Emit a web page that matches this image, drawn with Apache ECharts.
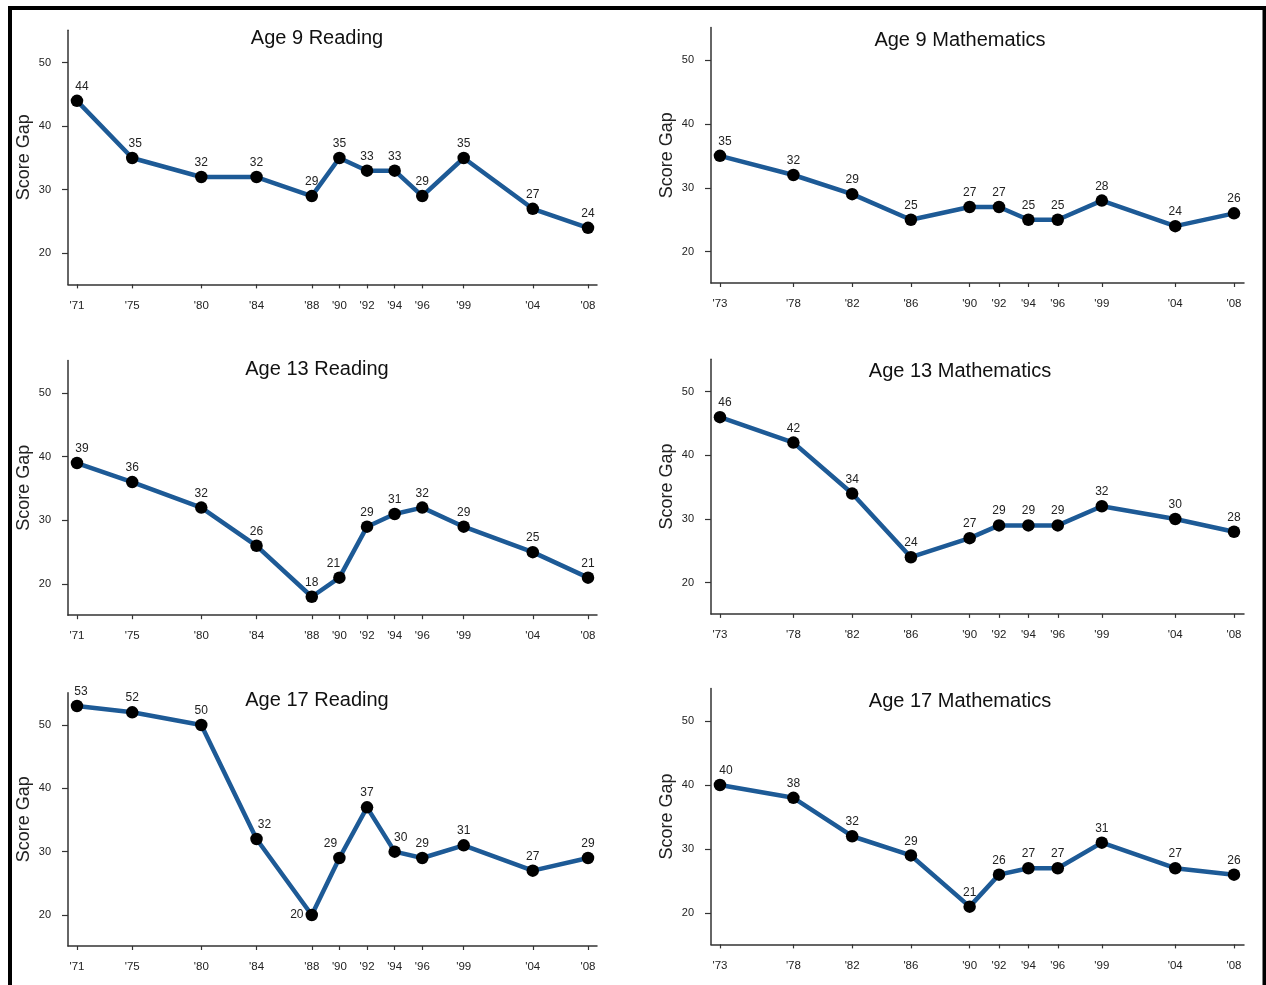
<!DOCTYPE html>
<html>
<head>
<meta charset="utf-8">
<script src="https://cdn.jsdelivr.net/npm/echarts@6/dist/echarts.min.js"></script>
<style>
html,body{margin:0;padding:0;background:#fff;}
#chart{width:1266px;height:985px;}
</style>
</head>
<body>
<div id="chart"></div>
<script>
// ---- data ----
const readingYears = [1971, 1975, 1980, 1984, 1988, 1990, 1992, 1994, 1996, 1999, 2004, 2008];
const mathYears = [1973, 1978, 1982, 1986, 1990, 1992, 1994, 1996, 1999, 2004, 2008];
const age9Reading = [44, 35, 32, 32, 29, 35, 33, 33, 29, 35, 27, 24];
const age9Math = [35, 32, 29, 25, 27, 27, 25, 25, 28, 24, 26];
const age13Reading = [39, 36, 32, 26, 18, 21, 29, 31, 32, 29, 25, 21];
const age13Math = [46, 42, 34, 24, 27, 29, 29, 29, 32, 30, 28];
const age17Reading = [53, 52, 50, 32, 20, 29, 37, 30, 29, 31, 27, 29];
const age17Math = [40, 38, 32, 29, 21, 26, 27, 27, 31, 27, 26];
const yTicks = [20, 30, 40, 50];
const titles = ['Age 9 Reading', 'Age 9 Mathematics', 'Age 13 Reading', 'Age 13 Mathematics', 'Age 17 Reading', 'Age 17 Mathematics'];
const yAxisName = 'Score Gap';

// ---- layout (styling only) ----
const panels = [
  {years: readingYears, vals: age9Reading, left: 68, top: 30.3, width: 529, height: 254.1, xmin: 1970.35, xmax: 2008.65, tx: 317, ty: 38},
  {years: mathYears, vals: age9Math, left: 711, top: 27.4, width: 533, height: 255.6, xmin: 1972.39, xmax: 2008.68, tx: 960, ty: 40},
  {years: readingYears, vals: age13Reading, left: 68, top: 360.5, width: 529, height: 254.7, xmin: 1970.35, xmax: 2008.65, tx: 317, ty: 369},
  {years: mathYears, vals: age13Math, left: 711, top: 359.2, width: 533, height: 254.7, xmin: 1972.39, xmax: 2008.68, tx: 960, ty: 371},
  {years: readingYears, vals: age17Reading, left: 68, top: 692.7, width: 529, height: 253.3, xmin: 1970.35, xmax: 2008.65, tx: 317, ty: 700},
  {years: mathYears, vals: age17Math, left: 711, top: 688.4, width: 533, height: 256, xmin: 1972.39, xmax: 2008.68, tx: 960, ty: 701}
];
// label placement tweaks: panelIndex -> {year: {...}}
const labelTweaks = {
  0: {1971: {offset: [5, 0]}, 1975: {offset: [3, 0]}},
  1: {1973: {offset: [5, 0]}},
  2: {1971: {offset: [5, 0]}, 1990: {offset: [-6, 0]}},
  3: {1973: {offset: [5, 0]}},
  4: {1971: {offset: [4, 0]}, 1984: {offset: [8, 0]}, 1988: {position: 'left', distance: 2}, 1990: {offset: [-9, 0]}, 1994: {offset: [6, 0]}},
  5: {1973: {offset: [6, 0]}}
};

const axisColor = '#333';
const textColor = '#222';
const lineColor = '#1d5a96';
const FONT = '"Liberation Sans", Arial, Helvetica, sans-serif';

const grid = [], xAxis = [], yAxis = [], series = [], title = [];
panels.forEach((p, i) => {
  grid.push({left: p.left, top: p.top, width: p.width, height: p.height, containLabel: false});
  xAxis.push({
    type: 'value', gridIndex: i, min: p.xmin, max: p.xmax,
    axisLine: {show: true, lineStyle: {color: axisColor, width: 1.5}},
    axisTick: {show: true, customValues: p.years, length: 4, lineStyle: {color: axisColor, width: 1.2}},
    axisLabel: {customValues: p.years, margin: 15, fontSize: 11.5, color: textColor, fontFamily: FONT,
      formatter: v => "'" + String(Math.round(v)).slice(2)},
    splitLine: {show: false}
  });
  yAxis.push({
    type: 'value', gridIndex: i, min: 15.1, max: 55.1,
    name: yAxisName, nameLocation: 'middle', nameGap: 35,
    nameTextStyle: {fontSize: 18, color: textColor, fontFamily: FONT},
    axisLine: {show: true, lineStyle: {color: axisColor, width: 1.5}},
    axisTick: {show: true, customValues: yTicks, length: 6, lineStyle: {color: axisColor, width: 1.2}},
    axisLabel: {customValues: yTicks, margin: 17, fontSize: 11, color: textColor, fontFamily: FONT},
    splitLine: {show: false}
  });
  const tw = labelTweaks[i] || {};
  series.push({
    type: 'line', xAxisIndex: i, yAxisIndex: i,
    data: p.years.map((y, k) => {
      const d = {value: [y, p.vals[k]]};
      if (tw[y]) d.label = tw[y];
      return d;
    }),
    lineStyle: {color: lineColor, width: 4.5},
    symbol: 'circle', symbolSize: 12.5,
    itemStyle: {color: '#000', borderWidth: 0},
    label: {show: true, position: 'top', distance: 2, fontSize: 12, color: textColor, fontFamily: FONT,
      formatter: q => q.value[1]},
    animation: false, z: 3
  });
  title.push({text: titles[i], left: p.tx, top: p.ty - 9.5, textAlign: 'center', padding: 0,
    textStyle: {fontSize: 20, fontWeight: 'normal', color: '#111', fontFamily: FONT}});
});

const chart = echarts.init(document.getElementById('chart'), null, {renderer: 'canvas'});
chart.setOption({
  backgroundColor: '#fff',
  animation: false,
  title, grid, xAxis, yAxis, series,
  graphic: [{type: 'rect', shape: {x: 10, y: 8, width: 1254.5, height: 1000},
    style: {fill: 'none', stroke: '#000', lineWidth: 4}, silent: true, z: 100}]
});
</script>
</body>
</html>
